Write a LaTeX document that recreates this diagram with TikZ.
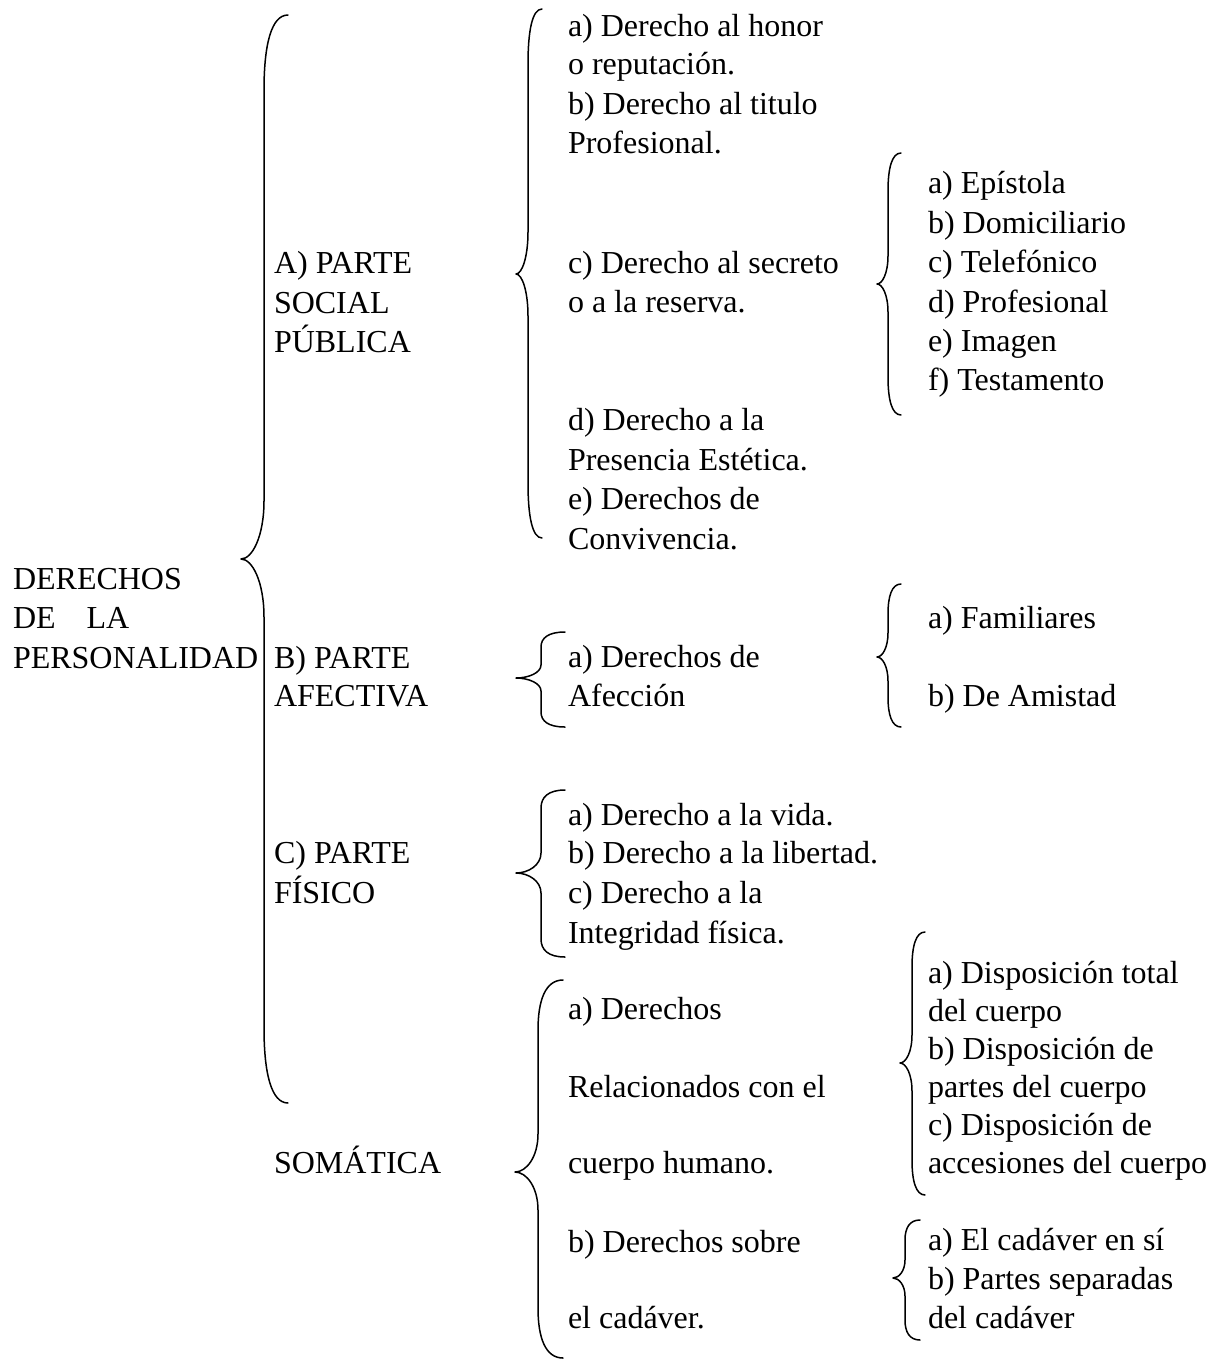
\documentclass[tikz,border=0pt]{standalone}
\usepackage{fontspec}
\setmainfont{Liberation Serif}
\tikzset{
  txt/.style={anchor=base west, inner sep=0pt, outer sep=0pt, font=\fontsize{32}{39}\selectfont},
  bracestyle/.style={line width=1.5pt, line cap=round, line join=round}
}
% xe xv xt ytop ytip ybot hook tiphalf
\newcommand{\drawmybrace}[8]{%
  \pgfmathsetmacro{\bxa}{#2+(#1-#2)*0.3}%
  \pgfmathsetmacro{\byA}{#4+#7*0.4}%
  \pgfmathsetmacro{\byB}{#4+#7}%
  \pgfmathsetmacro{\byC}{#5-#8}%
  \pgfmathsetmacro{\byD}{#5-#8*0.4}%
  \pgfmathsetmacro{\bxt}{#3+(#2-#3)*0.5}%
  \pgfmathsetmacro{\byE}{#5+#8*0.4}%
  \pgfmathsetmacro{\byF}{#5+#8}%
  \pgfmathsetmacro{\byG}{#6-#7}%
  \pgfmathsetmacro{\byH}{#6-#7*0.4}%
  \draw[bracestyle] (#1,#4) .. controls (\bxa,#4) and (#2,\byA) .. (#2,\byB)
    -- (#2,\byC) .. controls (#2,\byD) and (\bxt,#5) .. (#3,#5)
    .. controls (\bxt,#5) and (#2,\byE) .. (#2,\byF)
    -- (#2,\byG) .. controls (#2,\byH) and (\bxa,#6) .. (#1,#6);%
}
\begin{document}
\begin{tikzpicture}[x=1pt,y=-1pt]
\useasboundingbox (0,0) rectangle (1219,1361);
\fill[white] (0,0) rectangle (1219,1361);

% ---- braces ----
\drawmybrace{288}{264}{241}{15}{559}{1103}{75}{58}
\drawmybrace{542}{528}{516}{9}{274}{538}{55}{42}
\drawmybrace{565}{541}{516}{632}{678}{727}{15}{13}
\drawmybrace{565}{541}{516}{790}{873}{957}{18}{20}
\drawmybrace{563}{538}{515}{980}{1172}{1358}{50}{38}
\drawmybrace{901}{888}{877}{153}{284}{415}{38}{28}
\drawmybrace{901}{888}{877}{584}{657}{727}{30}{24}
\drawmybrace{925}{912}{900}{932}{1063}{1195}{35}{28}
\drawmybrace{920}{905}{893}{1220}{1278}{1340}{20}{18}

% ---- column 1 ----
\node[txt] (r1) at (13,589) {DERECHOS};
\node[txt] (r2) at (13,628) {DE\hspace{31pt}LA};
\node[txt] (r3) at (13,668) {PERSONALIDAD};

% ---- column 2 ----
\node[txt] (a1) at (274,273) {A) PARTE};
\node[txt] (a2) at (274,313) {SOCIAL};
\node[txt] (a3) at (274,352) {PÚBLICA};
\node[txt] (b1) at (274,668) {B) PARTE};
\node[txt] (b2) at (274,706) {AFECTIVA};
\node[txt] (c1) at (274,863) {C) PARTE};
\node[txt] (c2) at (274,903) {FÍSICO};
\node[txt] (s1) at (274,1173) {SOMÁTICA};

% ---- column 3 ----
\node[txt] (a11) at (568,36) {a) Derecho al honor};
\node[txt] (a12) at (568,74) {o reputación.};
\node[txt] (a13) at (568,114) {b) Derecho al titulo};
\node[txt] (a14) at (568,153) {Profesional.};
\node[txt] (a15) at (568,273) {c) Derecho al secreto};
\node[txt] (a16) at (568,312) {o a la reserva.};
\node[txt] (a17) at (568,430) {d) Derecho a la};
\node[txt] (a18) at (568,470) {Presencia Estética.};
\node[txt] (a19) at (568,509) {e) Derechos de};
\node[txt] (a20) at (568,549) {Convivencia.};

\node[txt] (b11) at (568,667) {a) Derechos de};
\node[txt] (b12) at (568,706) {Afección};

\node[txt] (c11) at (568,825) {a) Derecho a la vida.};
\node[txt] (c12) at (568,863) {b) Derecho a la libertad.};
\node[txt] (c13) at (568,903) {c) Derecho a la};
\node[txt] (c14) at (568,943) {Integridad física.};

\node[txt] (s11) at (568,1019) {a) Derechos};
\node[txt] (s12) at (568,1097) {Relacionados con el};
\node[txt] (s13) at (568,1173) {cuerpo humano.};
\node[txt] (s14) at (568,1252) {b) Derechos sobre};
\node[txt] (s15) at (568,1328) {el cadáver.};

% ---- column 4 ----
\node[txt] (e1) at (928,193) {a) Epístola};
\node[txt] (e2) at (928,233) {b) Domiciliario};
\node[txt] (e3) at (928,272) {c) Telefónico};
\node[txt] (e4) at (928,312) {d) Profesional};
\node[txt] (e5) at (928,351) {e) Imagen};
\node[txt] (e6) at (928,390) {f) Testamento};

\node[txt] (f1) at (928,628) {a) Familiares};
\node[txt] (f2) at (928,706) {b) De Amistad};

\node[txt] (d1) at (928,983) {a) Disposición total};
\node[txt] (d2) at (928,1021) {del cuerpo};
\node[txt] (d3) at (928,1059) {b) Disposición de};
\node[txt] (d4) at (928,1097) {partes del cuerpo};
\node[txt] (d5) at (928,1135) {c) Disposición de};
\node[txt] (d6) at (928,1173) {accesiones del cuerpo};

\node[txt] (k1) at (928,1250) {a) El cadáver en sí};
\node[txt] (k2) at (928,1289) {b) Partes separadas};
\node[txt] (k3) at (928,1328) {del cadáver};
\end{tikzpicture}
\end{document}
